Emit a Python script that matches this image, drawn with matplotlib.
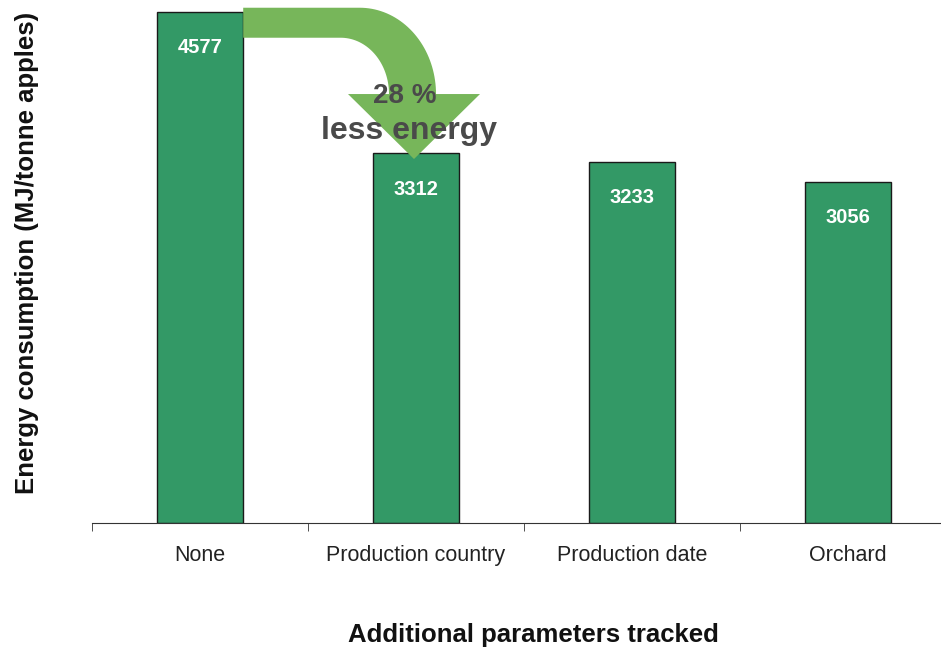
import numpy as np
import matplotlib.pyplot as plt
from matplotlib.patches import Polygon

plt.rcParams['font.family'] = ['Liberation Sans', 'DejaVu Sans']

# data
categories = ['None', 'Production country', 'Production date', 'Orchard']
energy = [4577, 3312, 3233, 3056]
saving_text = ['28 %', 'less energy']

bar_color = '#339966'
arrow_color = '#77b65a'

W, H = 941, 649
fig = plt.figure(figsize=(W / 100, H / 100), dpi=100)
ax = fig.add_axes([92 / W, (H - 523) / H, 864 / W, 523 / H])

x = np.arange(len(categories))
bars = ax.bar(x, energy, width=0.4, color=bar_color, edgecolor='#1a1a1a', linewidth=1.0, zorder=2)
ax.set_xlim(-0.5, len(categories) - 0.5)
ax.set_ylim(0, 4682)

for xi, v in zip(x, energy):
    ax.annotate(str(v), (xi, v), xytext=(0, -26), textcoords='offset points',
                ha='center', va='center', color='white', fontsize=14.5, fontweight='bold', zorder=3)

for s in ['left', 'right', 'top']:
    ax.spines[s].set_visible(False)
ax.spines['bottom'].set_color('#333333')
ax.set_yticks([])
ax.set_xticks(x)
ax.set_xticklabels(categories, fontsize=15.5, color='#222222')
ax.tick_params(axis='x', which='major', length=0, pad=16)
ax.set_xticks(np.arange(len(categories)) - 0.5, minor=True)
ax.tick_params(axis='x', which='minor', length=6, color='#333333', direction='out')

fig.text(27 / W, 1 - 253 / H, 'Energy consumption (MJ/tonne apples)', rotation=90,
         ha='center', va='center', fontsize=18.5, fontweight='bold', color='#111111')
fig.text(533 / W, 1 - 635 / H, 'Additional parameters tracked',
         ha='center', va='center', fontsize=18.5, fontweight='bold', color='#111111')

# curved arrow from first bar to second, built in pixel space
fig.canvas.draw()
ax_px = ax.transData.transform((0.2, energy[0]))
tip_px = ax.transData.transform((1, energy[1]))
ax_x, ax_y = ax_px
tx, ty = tip_px[0] - 2, tip_px[1] - 6
base_y = ty + 65
top_o = ax_y + 4
top_i = ax_y - 26
r_o = top_o - base_y
r_i = top_i - base_y
cx_o = tx + 22 - r_o + 10
cx_i = tx - 25 - r_i + 8
t = np.linspace(0, np.pi / 2, 40)
outer = np.column_stack([cx_o + (r_o - 10) * np.sin(t), base_y + r_o * np.cos(t)])
inner = np.column_stack([cx_i + (r_i - 8) * np.sin(t), base_y + r_i * np.cos(t)])[::-1]
pts = [(ax_x, top_o), (cx_o, top_o)] + list(map(tuple, outer[1:])) + [
    (tx + 66, base_y), (tx, ty), (tx - 66, base_y)] + list(map(tuple, inner[:-1])) + [
    (cx_i, top_i), (ax_x, top_i)]
arrow = Polygon(pts, closed=True, facecolor=arrow_color, edgecolor='none', transform=None, zorder=4)
fig.patches.append(arrow)

fig.text((tx - 9) / W, (ty + 63) / H, saving_text[0], ha='center', va='center', fontsize=20,
         fontweight='bold', color='#4a4a4a', zorder=5)
fig.text((tx - 5) / W, (ty + 28) / H, saving_text[1], ha='center', va='center', fontsize=23,
         fontweight='bold', color='#4a4a4a', zorder=5)

fig.savefig('out.png', dpi=100)
